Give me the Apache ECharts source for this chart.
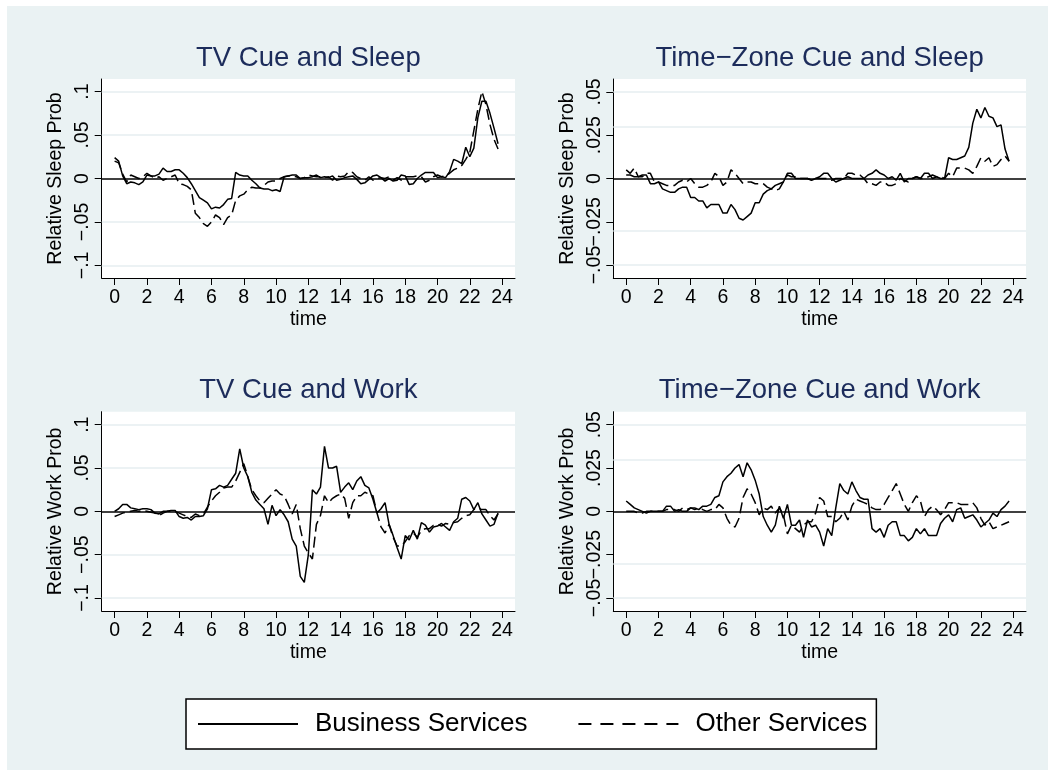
<!DOCTYPE html>
<html>
<head>
<meta charset="utf-8">
<script src="https://cdn.jsdelivr.net/npm/echarts@6/dist/echarts.min.js"></script>
<style>
html, body { margin: 0; padding: 0; background: #fff; }
#chart { position: absolute; left: 7px; top: 6px; width: 1041px; height: 764px; }
</style>
</head>
<body>
<div id="chart"></div>
<script>
// quarter-hour grid shared by all four panels
const hours = [
  0, 0.25, 0.5, 0.75, 1, 1.25, 1.5, 1.75, 2, 2.25, 2.5, 2.75, 3, 3.25, 3.5, 3.75,
  4, 4.25, 4.5, 4.75, 5, 5.25, 5.5, 5.75, 6, 6.25, 6.5, 6.75, 7, 7.25, 7.5, 7.75,
  8, 8.25, 8.5, 8.75, 9, 9.25, 9.5, 9.75, 10, 10.25, 10.5, 10.75, 11, 11.25, 11.5, 11.75,
  12, 12.25, 12.5, 12.75, 13, 13.25, 13.5, 13.75, 14, 14.25, 14.5, 14.75, 15, 15.25, 15.5, 15.75,
  16, 16.25, 16.5, 16.75, 17, 17.25, 17.5, 17.75, 18, 18.25, 18.5, 18.75, 19, 19.25, 19.5, 19.75,
  20, 20.25, 20.5, 20.75, 21, 21.25, 21.5, 21.75, 22, 22.25, 22.5, 22.75, 23, 23.25, 23.5, 23.75
]

const tvSleepBusiness = [
  .024, .02, .003, -.006, -.004, -.005, -.007, -.004,
  .004, .003, .003, .005, .012, .008, .008, .01,
  .01, .006, .001, -.006, -.014, -.022, -.025, -.028,
  -.035, -.033, -.034, -.03, -.024, -.023, .007, .004,
  .003, .003, -.002, -.006, -.011, -.012, -.012, -.014,
  -.013, -.015, .002, .003, .004, .004, 0, .001,
  .001, .002, .004, .001, .002, .001, .003, -.002,
  -.001, .001, .002, .003, -.001, -.006, -.005, -.001,
  .003, .004, .001, -.003, 0, -.003, -.002, .004,
  .003, -.007, -.006, 0, .004, .007, .007, .007,
  .001, .002, .001, .008, .022, .02, .017, .036,
  .025, .035, .07, .089, .089, .075, .058, .04
]
const tvSleepOther = [
  .02, .018, .005, -.004, .004, .002, 0, .002,
  .006, .003, 0, .002, -.002, 0, .002, .004,
  -.006, -.007, -.009, -.013, -.04, -.045, -.052, -.055,
  -.05, -.042, -.045, -.053, -.045, -.042, -.025, -.02,
  -.018, -.013, -.01, -.011, -.011, -.008, -.004, -.003,
  -.003, 0, .002, .003, .003, .002, 0, .001,
  .004, .003, .002, .002, .001, .002, -.002, .003,
  .002, .003, .008, .007, .002, 0, -.002, .002,
  -.002, 0, .001, 0, .002, -.002, .001, -.002,
  .002, .002, .002, .003, .002, -.004, -.002, .002,
  .004, .002, .003, .006, .01, .012, .015, .022,
  .03, .055, .08, .1, .085, .062, .045, .034
]
const tzSleepBusiness = [
  .002, .002, .001, .001, .002, .002, -.003, -.003,
  -.002, -.006, -.007, -.008, -.008, -.006, -.005, -.005,
  -.011, -.011, -.013, -.013, -.017, -.015, -.015, -.015,
  -.02, -.02, -.015, -.018, -.023, -.024, -.022, -.02,
  -.014, -.014, -.009, -.007, -.006, -.004, -.003, -.002,
  .003, .003, 0, 0, 0, 0, -.001, 0,
  .001, .003, .003, 0, -.002, -.001, 0, .001,
  0, 0, 0, 0, .002, .003, .005, .003,
  .002, 0, .001, -.001, .003, -.002, 0, 0,
  .001, 0, .003, .003, 0, .001, 0, 0,
  .012, .011, .011, .012, .013, .018, .032, .04,
  .035, .041, .036, .035, .03, .031, .017, .01
]
const tzSleepOther = [
  .005, .003, .006, .001, .001, .003, .003, -.002,
  -.002, -.003, -.004, -.004, -.004, -.002, -.001, -.002,
  0, -.003, -.005, -.005, -.004, -.002, .003, .001,
  -.004, -.002, .005, .003, 0, -.003, -.002, -.002,
  -.003, -.003, -.003, -.005, -.006, -.007, -.006, -.002,
  .002, .001, .001, 0, 0, 0, -.001, 0,
  0, 0, 0, -.001, 0, 0, 0, .003,
  .003, .002, .002, 0, -.003, -.003, -.004, -.002,
  -.002, -.004, -.004, -.003, 0, -.001, -.002, 0,
  .001, 0, 0, .001, .002, .001, .001, 0,
  .003, .001, .006, .006, .006, .005, .003, .007,
  .012, .01, .012, .007, .008, .011, .013, .01
]
const tvWorkBusiness = [
  0, .003, .008, .008, .004, .003, .002, .003,
  .003, .002, -.002, -.003, 0, 0, .001, .001,
  -.006, -.008, -.007, -.01, -.006, -.006, -.005, .003,
  .025, .026, .03, .028, .03, .037, .044, .072,
  .05, .04, .022, .013, .008, .003, -.015, .007,
  -.005, .002, -.004, -.012, -.032, -.04, -.075, -.082,
  -.05, .025, .02, .028, .075, .05, .05, .052,
  .022, .028, .033, .025, .035, .04, .03, .027,
  .014, -.002, .003, .01, -.015, -.028, -.042, -.055,
  -.028, -.033, -.022, -.032, -.013, -.016, -.024, -.018,
  -.017, -.014, -.018, -.022, -.012, -.008, .014, .016,
  .012, .002, .01, -.003, -.01, -.017, -.015, -.002
]
const tvWorkOther = [
  -.006, -.004, -.002, -.001, 0, .001, 0, .001,
  0, -.001, -.002, -.005, -.002, 0, 0, 0,
  -.002, -.004, -.006, -.007, -.003, -.005, -.003, .005,
  .012, .018, .022, .027, .028, .028, .035, .045,
  .055, .04, .025, .018, .012, .01, .015, .02,
  .025, .02, .018, .008, -.003, .008, -.02, -.04,
  -.048, -.055, -.015, -.005, .018, .01, .015, .018,
  .02, .015, -.008, .01, .018, .018, .022, .02,
  .018, -.002, -.018, -.025, -.015, -.03, -.04, -.04,
  -.035, -.028, -.025, -.03, -.022, -.02, -.02, -.016,
  -.015, -.017, -.014, -.015, -.013, -.012, -.008, -.005,
  -.004, .002, .004, .002, .002, -.005, -.01, -.003
]
const tzWorkBusiness = [
  .006, .004, .002, .001, 0, -.001, 0, 0,
  0, 0, .003, .003, 0, .001, 0, 0,
  .002, .002, .001, .003, .003, .004, .008, .009,
  .017, .02, .022, .025, .027, .02, .028, .024,
  .018, .01, -.003, -.008, -.012, -.008, .003, -.004,
  .004, -.008, -.008, -.005, -.015, -.005, -.009, -.008,
  -.012, -.02, -.01, -.014, .002, .016, .012, .01,
  .017, .012, .008, .007, .007, -.01, -.012, -.01,
  -.015, -.008, -.006, -.006, -.014, -.014, -.017, -.015,
  -.01, -.013, -.01, -.014, -.014, -.014, -.007, -.004,
  -.002, -.006, .001, .002, -.004, -.003, -.002, -.005,
  -.009, -.007, -.005, -.001, -.003, .001, .003, .006
]
const tzWorkOther = [
  0, 0, 0, -.001, -.001, 0, 0, 0,
  0, 0, .001, .001, .001, 0, .002, .001,
  .002, .001, .002, .001, 0, .001, .001, .004,
  .002, -.004, -.008, -.009, -.004, .008, .013, .01,
  .005, -.002, .002, .001, .003, -.001, .002, -.002,
  -.013, -.008, -.01, -.012, -.008, -.006, -.006, -.001,
  .008, .006, -.003, -.003, -.006, -.004, 0, -.005,
  .003, .007, .006, .005, .004, .002, .001, .001,
  .004, .008, .012, .016, .01, .004, 0, .005,
  .009, .006, -.003, .001, .003, .001, -.002, .001,
  .005, .005, .005, .004, .004, .004, .005, .002,
  -.004, -.008, -.006, -.01, -.009, -.008, -.007, -.006
]

const xTicks = [0, 2, 4, 6, 8, 10, 12, 14, 16, 18, 20, 22, 24]
const yTicksTV = [-0.1, -0.05, 0, 0.05, 0.1]
const yTicksTZ = [-0.05, -0.025, 0, 0.025, 0.05]
const panelTitles = ['TV Cue and Sleep', 'Time\u2212Zone Cue and Sleep', 'TV Cue and Work', 'Time\u2212Zone Cue and Work']
const yNames = ['Relative Sleep Prob', 'Relative Sleep Prob', 'Relative Work Prob', 'Relative Work Prob']
const seriesNames = ['Business Services', 'Other Services']

const FONT = "'Liberation Sans', Arial, Helvetica, sans-serif"
const TITLE_COLOR = '#1c2c5b'

const panels = [
  { business: tvSleepBusiness, other: tvSleepOther, ticks: yTicksTV, ext: 0.1145 },
  { business: tzSleepBusiness, other: tzSleepOther, ticks: yTicksTZ, ext: 0.0575 },
  { business: tvWorkBusiness, other: tvWorkOther, ticks: yTicksTV, ext: 0.115 },
  { business: tzWorkBusiness, other: tzWorkOther, ticks: yTicksTZ, ext: 0.0575 }
]

const grids = [
  { left: 94.7, top: 73, width: 413.3, height: 199 },
  { left: 606.3, top: 73, width: 412.7, height: 199 },
  { left: 94.7, top: 405.7, width: 413.3, height: 199.3 },
  { left: 606.3, top: 405.7, width: 412.7, height: 199.3 }
]

const fmtY = v => {
  if (v === 0) return '0'
  return (v < 0 ? '\u2212' : '') + String(Math.abs(v)).replace(/^0/, '')
}

const axisText = { fontFamily: FONT, fontSize: 19.5, color: '#000' }

// Stata packs the y labels tightly; split them over two overlaid axes so
// ECharts does not drop any of them for overlapping
function yAxisPair(p, i) {
  const even = p.ticks.filter((v, k) => k % 2 === 0)
  const odd = p.ticks.filter((v, k) => k % 2 === 1)
  const base = {
    type: 'value', gridIndex: i, min: -p.ext, max: p.ext, position: 'left', offset: 0,
    axisTick: { show: true, length: 7, lineStyle: { color: '#000', width: 1 } },
    axisLabel: { rotate: 90, margin: 9, formatter: fmtY, showMinLabel: true, showMaxLabel: true, ...axisText },
    splitLine: { show: false }
  }
  return [
    {
      ...base,
      name: yNames[i], nameLocation: 'middle', nameGap: 36, nameMoveOverlap: false,
      nameTextStyle: axisText,
      axisLine: { show: true, onZero: false, lineStyle: { color: '#000', width: 1 } },
      axisTick: { ...base.axisTick, customValues: even },
      axisLabel: { ...base.axisLabel, customValues: even }
    },
    {
      ...base,
      axisLine: { show: false, onZero: false },
      axisTick: { ...base.axisTick, customValues: odd },
      axisLabel: { ...base.axisLabel, customValues: odd }
    }
  ]
}

const option = {
  backgroundColor: '#eaf2f3',
  animation: false,
  title: grids.map((g, i) => ({
    text: panelTitles[i],
    left: g.left + g.width / 2,
    top: i < 2 ? 38 : 370,
    textAlign: 'center',
    padding: 0,
    textStyle: { fontFamily: FONT, fontSize: 27.5, fontWeight: 'normal', color: TITLE_COLOR }
  })),
  grid: grids.map(g => ({
    ...g, show: true, backgroundColor: '#fff', borderWidth: 0
  })),
  xAxis: grids.map((g, i) => ({
    type: 'value', gridIndex: i, min: -0.8, max: 24.8,
    name: 'time', nameLocation: 'middle', nameGap: 32,
    nameTextStyle: axisText,
    axisLine: { onZero: false, lineStyle: { color: '#000', width: 1 } },
    axisTick: { customValues: xTicks, length: 7, lineStyle: { color: '#000', width: 1 } },
    axisLabel: { customValues: xTicks, margin: 10, showMinLabel: true, showMaxLabel: true, ...axisText },
    splitLine: { show: false }
  })),
  yAxis: panels.flatMap((p, i) => yAxisPair(p, i)),
  legend: {
    data: [
      { name: seriesNames[0] },
      { name: seriesNames[1], lineStyle: { type: [13, 9] } }
    ],
    left: 179, top: 693,
    backgroundColor: '#fff', borderColor: '#000', borderWidth: 1.5, borderRadius: 0,
    padding: [12, 9, 12, 11],
    itemWidth: 100, itemHeight: 20, itemGap: 50,
    itemStyle: { opacity: 0 },
    textStyle: { fontFamily: FONT, fontSize: 26, lineHeight: 26, color: '#000', padding: [0, 0, 0, 12] },
    selectedMode: false
  },
  series: []
}

panels.forEach((p, i) => {
  const yIdx = i * 2
  option.series.push({
    name: seriesNames[0], type: 'line', xAxisIndex: i, yAxisIndex: yIdx,
    data: hours.map((h, k) => [h, p.business[k]]),
    symbol: 'none', silent: true, z: 3,
    lineStyle: { color: '#000', width: 1.5 },
    itemStyle: { color: '#000' },
    markLine: {
      silent: true, symbol: 'none', label: { show: false },
      lineStyle: { color: '#000', width: 1.5, type: 'solid' },
      data: [{ yAxis: 0 }]
    }
  })
  option.series.push({
    name: seriesNames[1], type: 'line', xAxisIndex: i, yAxisIndex: yIdx,
    data: hours.map((h, k) => [h, p.other[k]]),
    symbol: 'none', silent: true, z: 3,
    lineStyle: { color: '#000', width: 1.5, type: [11, 5] },
    itemStyle: { color: '#000' },
    // faint Stata gridlines
    markLine: {
      silent: true, symbol: 'none', label: { show: false }, z: 1,
      lineStyle: { color: '#e6eef0', width: 1.5, type: 'solid' },
      data: p.ticks.filter(v => v !== 0).map(v => ({ yAxis: v }))
    }
  })
})

const chart = echarts.init(document.getElementById('chart'))
chart.setOption(option)
</script>
</body>
</html>
